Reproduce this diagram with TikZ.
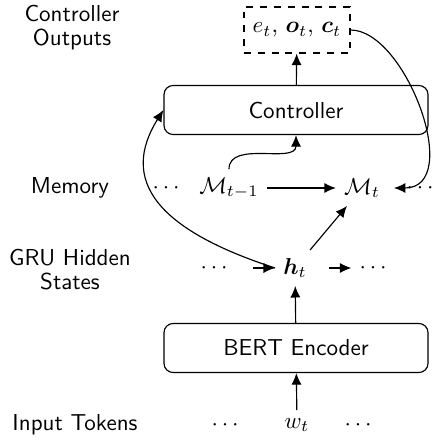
\documentclass[tikz,border=0pt]{standalone}
\usepackage{amsmath,amssymb,bm}
\usetikzlibrary{positioning,arrows.meta}
\begin{document}
\begin{tikzpicture}[
  x=0.434pt, y=0.434pt, line width=0.5pt,
  box/.style={rectangle, draw, rounded corners=4pt, minimum width=114.6pt, minimum height=21.3pt, font=\sffamily, align=center},
  outbox/.style={rectangle, draw, dashed, minimum width=46pt, minimum height=20pt, align=center},
  lbl/.style={font={\sffamily\fontsize{10}{10.5}\selectfont}, align=center},
  arrow/.style={-{Latex[length=5pt,width=4.4pt]}}
]
  \useasboundingbox (0,0) rectangle (433,-442);

  % Beschriftungen (links)
  \node[lbl] (outlab) at (72,-28) {Controller\\Outputs};
  \node[lbl] (memlab) at (70,-188) {Memory};
  \node[lbl] (grulab) at (70,-270) {GRU Hidden\\States};
  \node[lbl] (inlab) at (75,-425) {Input Tokens};

  % Ausgaben und Controller (oben)
  \node[outbox] (out) at (297,-30) {$e_t,\, \bm{o}_t,\, \bm{c}_t$};
  \node[box] (ctrl) at (296,-110) {Controller};

  % Speicher
  \node (mprev) at (229,-188) {$\mathcal{M}_{t-1}$};
  \node (mcur) at (362,-188) {$\mathcal{M}_t$};
  \node (mdotsl) at (168,-188) {$\cdots$};
  \node (mdotsr) at (422,-188) {$\cdots$};

  % GRU-Zustaende
  \node (h) at (295,-268) {$\bm{h}_t$};
  \node (hdotsl) at (216,-268) {$\cdots$};
  \node (hdotsr) at (375,-268) {$\cdots$};

  % BERT und Eingabe (unten)
  \node[box] (bert) at (296,-348) {BERT Encoder};
  \node (w) at (297,-425) {$w_t$};
  \node (wdotsl) at (227,-425) {$\cdots$};
  \node (wdotsr) at (360,-425) {$\cdots$};

  % Pfeile
  \draw[arrow] (w) -- (bert);
  \draw[arrow] (bert) -- (h);
  \draw[arrow, shorten <=6pt] (hdotsl) -- (h);
  \draw[arrow, shorten <=6pt] (h) -- (hdotsr);
  \draw[arrow] (h) -- (mcur);
  \draw[arrow] (mprev) -- (mcur);
  \draw[arrow] (ctrl) -- (out);
  \draw[arrow] (mprev.north) to[out=90, in=-90] (ctrl.south);
  \draw[arrow] (h.west) to[out=162, in=238, out distance=54pt, in distance=36pt] (ctrl.west);
  \draw[arrow, shorten >=2.5pt] (out.east) to[out=0, in=0, out distance=24pt, in distance=33pt] (mcur.east);

\end{tikzpicture}
\end{document}
